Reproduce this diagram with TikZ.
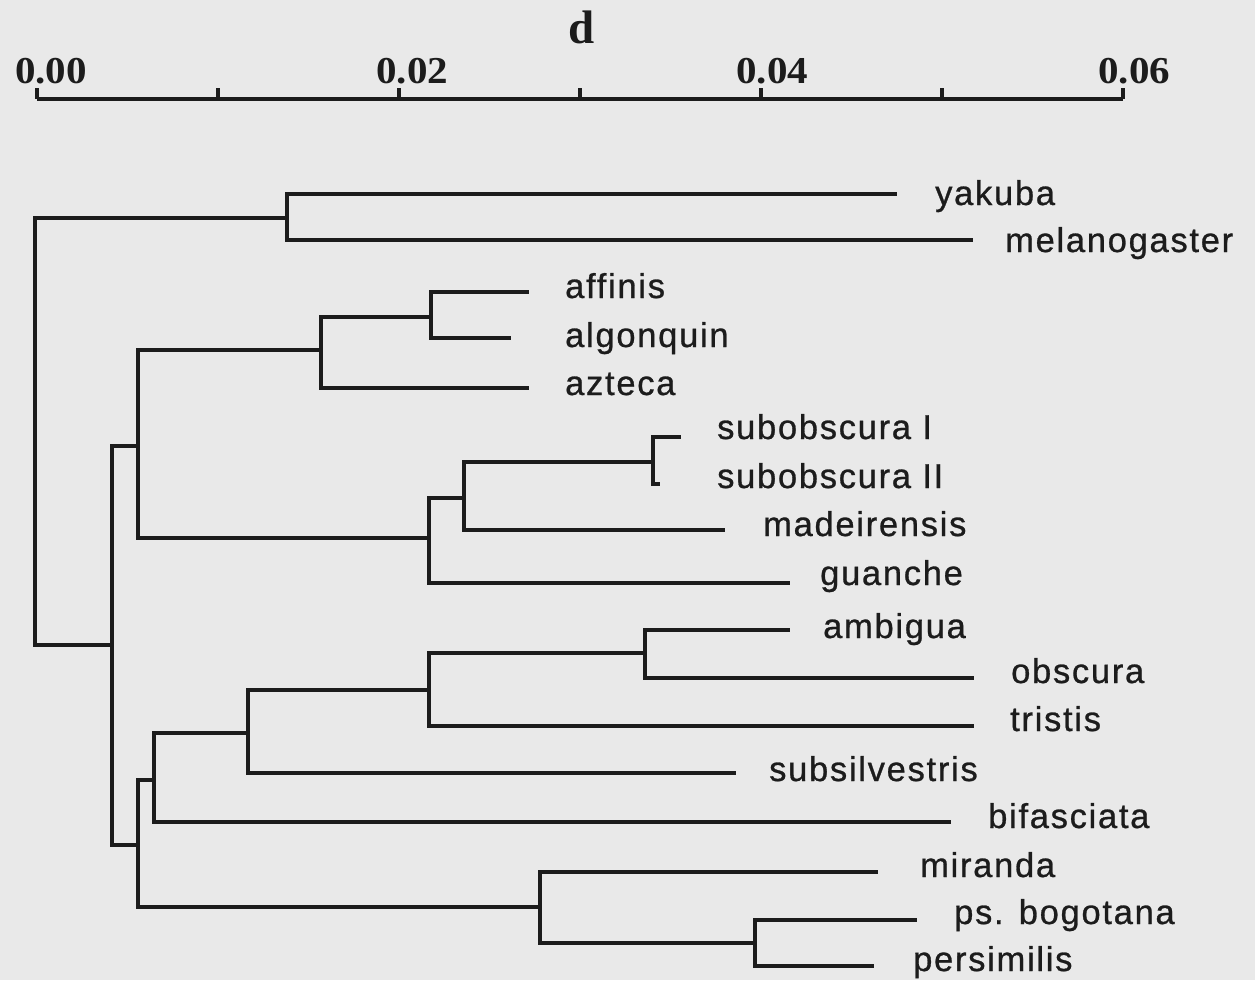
\documentclass[tikz,border=0pt]{standalone}
\usepackage{fontspec}
\setmainfont{Liberation Serif}
\newfontfamily\labfont[LetterSpace=5,FakeBold=0.8]{Liberation Sans}
\definecolor{bg}{RGB}{233,233,233}
\definecolor{ink}{RGB}{28,28,28}
\begin{document}
\begin{tikzpicture}[x=1pt,y=-1pt,
  br/.style={line width=4.6pt,draw=ink,line join=miter},
  axisline/.style={line width=4.6pt,draw=ink},
  taxon/.style={anchor=base west,inner sep=0pt,text=ink,font=\labfont\fontsize{34.5}{34.5}\selectfont},
  num/.style={anchor=base west,inner sep=0pt,text=ink,font=\bfseries\fontsize{38}{38}\selectfont,xscale=1.08},
  dlab/.style={anchor=base,inner sep=0pt,text=ink,font=\bfseries\fontsize{47}{47}\selectfont}]
\fill[bg] (0,0) rectangle (1255,980);
\useasboundingbox (0,0) rectangle (1255,980);

% ---- axis ----
\foreach \i in {0,...,6}{
  \coordinate (t\i) at ({37+181*\i},99);
  \coordinate (u\i) at ({37+181*\i},88);
}
\draw[axisline] (t0) -- (t6);
\foreach \i in {0,...,6}{ \draw[line width=3.5pt,draw=ink] (t\i) -- (u\i); }
\node[num] (n0) at (15,83) {0.00};
\node[num] (n2) at (376,83) {0.02};
\node[num] (n4) at (736,83) {0.04};
\node[num] (n6) at (1098,83) {0.06};
\node[dlab] (d) at (582,43) {d};

% ---- internal nodes ----
\coordinate (R) at (35,431);
\coordinate (T) at (287,218);
\coordinate (L) at (112,645);
\coordinate (A) at (138,446);
\coordinate (B) at (138,845);
\coordinate (C) at (321,350);
\coordinate (D) at (429,538);
\coordinate (E) at (431,317);
\coordinate (F) at (464,498);
\coordinate (G) at (653,462);
\coordinate (H) at (154,780);
\coordinate (J) at (248,733);
\coordinate (M) at (429,690);
\coordinate (N) at (645,653);
\coordinate (K) at (540,907);
\coordinate (P) at (755,943);

% ---- leaf ends ----
\coordinate (yak) at (897,194);
\coordinate (mel) at (973,240);
\coordinate (aff) at (529,292);
\coordinate (alg) at (511,338);
\coordinate (azt) at (529,388);
\coordinate (sI) at (681,437);
\coordinate (sII) at (660,484);
\coordinate (mad) at (725,530);
\coordinate (gua) at (790,583);
\coordinate (amb) at (790,630);
\coordinate (obs) at (974,678);
\coordinate (tri) at (974,726);
\coordinate (sub) at (736,773);
\coordinate (bif) at (951,822);
\coordinate (mir) at (878,872);
\coordinate (bog) at (917,920);
\coordinate (per) at (874,966);

% ---- branches ----
\draw[br] (R) |- (T);  \draw[br] (R) |- (L);
\draw[br] (T) |- (yak); \draw[br] (T) |- (mel);
\draw[br] (L) |- (A);  \draw[br] (L) |- (B);
\draw[br] (A) |- (C);  \draw[br] (A) |- (D);
\draw[br] (C) |- (E);  \draw[br] (C) |- (azt);
\draw[br] (E) |- (aff); \draw[br] (E) |- (alg);
\draw[br] (D) |- (F);  \draw[br] (D) |- (gua);
\draw[br] (F) |- (G);  \draw[br] (F) |- (mad);
\draw[br] (G) |- (sI); \draw[br] (G) |- (sII);
\draw[br] (B) |- (H);  \draw[br] (B) |- (K);
\draw[br] (H) |- (J);  \draw[br] (H) |- (bif);
\draw[br] (J) |- (M);  \draw[br] (J) |- (sub);
\draw[br] (M) |- (N);  \draw[br] (M) |- (tri);
\draw[br] (N) |- (amb); \draw[br] (N) |- (obs);
\draw[br] (K) |- (mir); \draw[br] (K) |- (P);
\draw[br] (P) |- (bog); \draw[br] (P) |- (per);

% ---- labels ----
\node[taxon] (lyak) at (935,205) {yakuba};
\node[taxon] (lmel) at (1005,252) {melanogaster};
\node[taxon] (laff) at (565,298) {affinis};
\node[taxon] (lalg) at (565,347) {algonquin};
\node[taxon] (lazt) at (565,395) {azteca};
\node[taxon] (lsI) at (717,439) {subobscura I};
\node[taxon] (lsII) at (717,488) {subobscura II};
\node[taxon] (lmad) at (763,536) {madeirensis};
\node[taxon] (lgua) at (820,585) {guanche};
\node[taxon] (lamb) at (823,638) {ambigua};
\node[taxon] (lobs) at (1011,683) {obscura};
\node[taxon] (ltri) at (1010,731) {tristis};
\node[taxon] (lsub) at (769,781) {subsilvestris};
\node[taxon] (lbif) at (988,828) {bifasciata};
\node[taxon] (lmir) at (920,877) {miranda};
\node[taxon] (lbog) at (954,924) {ps. bogotana};
\node[taxon] (lper) at (913,971) {persimilis};
\end{tikzpicture}
\end{document}
